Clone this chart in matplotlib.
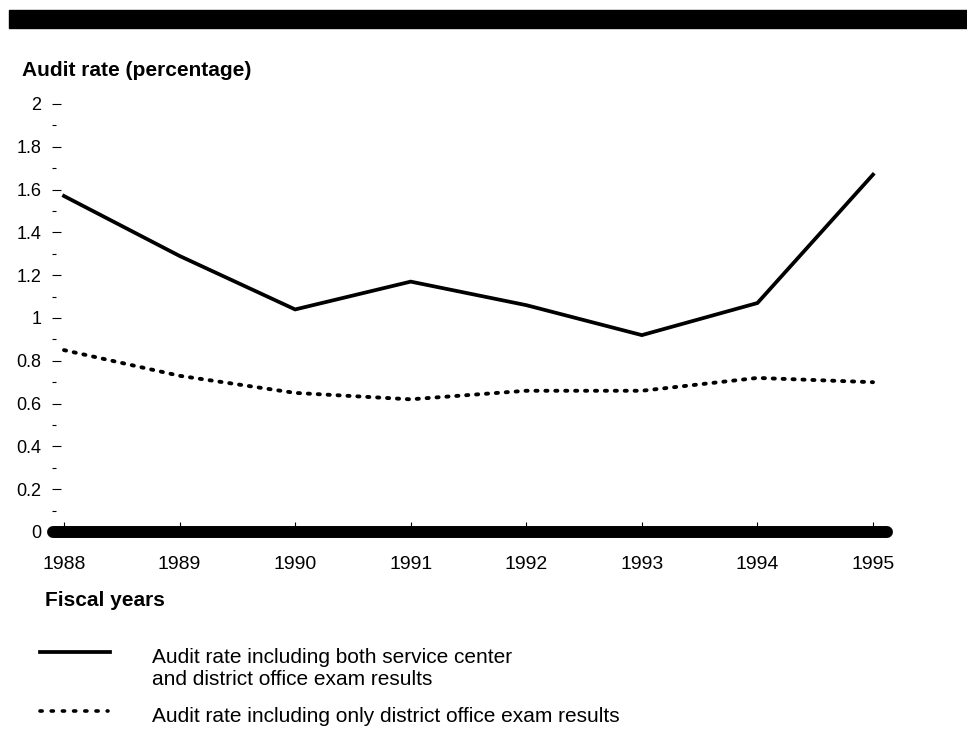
import matplotlib
matplotlib.use("Agg")
import matplotlib.pyplot as plt
from matplotlib.lines import Line2D
from matplotlib.patches import Rectangle
from matplotlib.ticker import MultipleLocator, FixedLocator

plt.rcParams['font.family'] = ['Liberation Sans', 'DejaVu Sans']

years = [1988, 1989, 1990, 1991, 1992, 1993, 1994, 1995]
rate_both = [1.57, 1.29, 1.04, 1.17, 1.06, 0.92, 1.07, 1.67]
rate_district = [0.85, 0.73, 0.65, 0.62, 0.66, 0.66, 0.72, 0.70]
y_ticks = [0, 0.2, 0.4, 0.6, 0.8, 1, 1.2, 1.4, 1.6, 1.8, 2]
y_tick_labels = ['0', '0.2', '0.4', '0.6', '0.8', '1', '1.2', '1.4', '1.6', '1.8', '2']
label_both = "Audit rate including both service center\nand district office exam results"
label_district = "Audit rate including only district office exam results"
y_title = "Audit rate (percentage)"
x_title = "Fiscal years"

W, H = 967, 729
fig = plt.figure(figsize=(W / 100, H / 100), dpi=100)

def fx(px):
    return px / W

def fy(py):
    return 1 - py / H

# top black band
fig.patches.append(Rectangle((fx(9), fy(28)), fx(W) - fx(9), (28 - 10) / H,
                             transform=fig.transFigure, color='black', zorder=0))

# axes: left px 52, right px 887, top px 104 (y=2), bottom px 532 (y=0)
ax_l, ax_r, ax_t, ax_b = 52, 887, 104, 532
ax = fig.add_axes([fx(ax_l), fy(ax_b), (ax_r - ax_l) / W, (ax_b - ax_t) / H])
ppy = (873 - 64) / 7.0
ax.set_xlim(1988 - (64 - ax_l) / ppy, 1995 + (ax_r - 873) / ppy)
ax.set_ylim(0, 2)
for s in ax.spines.values():
    s.set_visible(False)

ax.plot(years, rate_both, color='black', lw=2.7, solid_joinstyle='miter', clip_on=False, zorder=3)
ax.plot(years, rate_district, color='black', lw=2.8, linestyle=(0, (0.55, 2.0)),
        dash_capstyle='round', clip_on=False, zorder=3)

# thick baseline bar
ax.plot([(53 - ax_l) / (ax_r - ax_l), 1.0], [0, 0], transform=ax.get_yaxis_transform(),
        color='black', lw=8.6, solid_capstyle='round', clip_on=False, zorder=4)

ax.yaxis.set_major_locator(FixedLocator(y_ticks))
ax.set_yticklabels(y_tick_labels)
ax.yaxis.set_minor_locator(MultipleLocator(0.1))
ax.tick_params(axis='y', which='major', direction='in', length=6.5, width=0.8,
               pad=7.5, labelsize=13, colors='black')
ax.tick_params(axis='y', which='minor', direction='in', length=3.0, width=0.8, colors='black')
ax.set_xticks(years)
ax.set_xticklabels([str(y) for y in years])
ax.tick_params(axis='x', which='major', direction='in', length=7, width=0.8,
               pad=17, labelsize=14, colors='black')

fig.text(fx(22), fy(71), y_title, fontsize=15, fontweight='bold', va='center', ha='left')
fig.text(fx(45), fy(601), x_title, fontsize=15, fontweight='bold', va='center', ha='left')

# legend
fig.add_artist(Line2D([fx(40), fx(110)], [fy(652), fy(652)], color='black', lw=2.7,
                      transform=fig.transFigure))
fig.add_artist(Line2D([fx(40), fx(108)], [fy(711), fy(711)], color='black', lw=2.6,
                      linestyle=(0, (0.6, 2.5)), dash_capstyle='round',
                      transform=fig.transFigure))
fig.text(fx(152), fy(668.5), label_both, fontsize=15, va='center', ha='left', linespacing=1.2)
fig.text(fx(152), fy(717), label_district, fontsize=15, va='center', ha='left')

fig.savefig("out.png", dpi=100, facecolor='white')
